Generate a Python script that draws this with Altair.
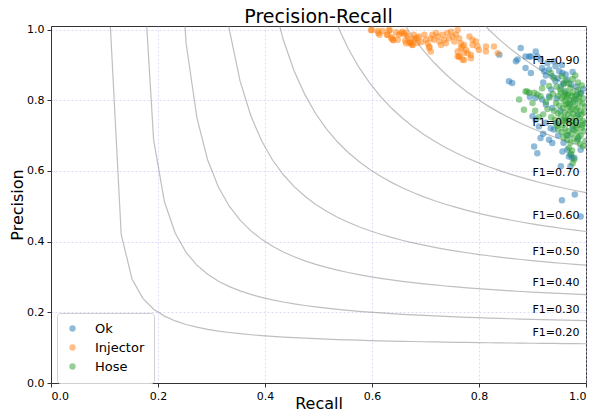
import altair as alt
import pandas as pd
import numpy as np

# ---- data ----
chart_title = "Precision-Recall"

ok_recall = [0.838, 0.878, 0.869, 0.872, 0.887, 0.897, 0.906, 0.909, 0.894, 0.918, 0.922, 0.931, 0.937, 0.943,
             0.950, 0.956, 0.962, 0.965, 0.856, 0.862, 0.943, 0.953, 0.984, 0.990, 0.978, 0.906, 0.918, 0.925,
             0.931, 0.937, 0.906, 0.925, 0.934, 0.940, 0.912, 0.903, 0.909, 0.915, 0.931, 0.937, 0.956, 0.971,
             0.974, 0.953, 0.968, 0.978, 0.971, 0.979, 0.955, 0.990, 0.897, 0.887, 0.928, 0.915, 0.925, 0.947,
             0.958, 0.972, 0.982, 0.995, 0.960, 0.945, 0.970, 0.985, 0.952, 0.962, 0.975, 0.944, 0.966, 0.985,
             0.958, 0.948, 0.920, 0.990, 0.965, 0.900, 0.895, 0.920, 0.935, 0.975, 0.940, 0.955]
ok_precision = [0.929, 0.948, 0.910, 0.915, 0.891, 0.877, 0.938, 0.924, 0.924, 0.891, 0.882, 0.887, 0.868, 0.896,
                0.882, 0.877, 0.873, 0.858, 0.854, 0.849, 0.854, 0.839, 0.816, 0.821, 0.802, 0.807, 0.802, 0.788,
                0.811, 0.778, 0.745, 0.736, 0.721, 0.717, 0.726, 0.669, 0.650, 0.693, 0.688, 0.679, 0.655, 0.646,
                0.637, 0.613, 0.641, 0.637, 0.613, 0.533, 0.517, 0.471, 0.924, 0.924, 0.905, 0.915, 0.870, 0.862,
                0.848, 0.845, 0.838, 0.832, 0.822, 0.805, 0.790, 0.760, 0.770, 0.745, 0.720, 0.735, 0.700, 0.690,
                0.680, 0.700, 0.705, 0.660, 0.660, 0.755, 0.810, 0.850, 0.830, 0.880, 0.910, 0.900]

inj_recall = [0.600, 0.612, 0.620, 0.628, 0.633, 0.637, 0.640, 0.645, 0.650, 0.654, 0.657, 0.660, 0.663, 0.666,
              0.662, 0.672, 0.675, 0.668, 0.678, 0.681, 0.598, 0.611, 0.614, 0.632, 0.629, 0.636, 0.639, 0.648,
              0.664, 0.673, 0.676, 0.679, 0.685, 0.688, 0.692, 0.698, 0.701, 0.704, 0.707, 0.710, 0.713, 0.716,
              0.720, 0.723, 0.726, 0.729, 0.732, 0.735, 0.738, 0.741, 0.744, 0.748, 0.751, 0.754, 0.757, 0.760,
              0.760, 0.760, 0.763, 0.769, 0.772, 0.707, 0.710, 0.685, 0.670, 0.763, 0.766, 0.766, 0.769, 0.772,
              0.776, 0.782, 0.785, 0.788, 0.788, 0.794, 0.797, 0.800, 0.813, 0.813, 0.828, 0.835, 0.763, 0.772,
              0.785, 0.779]
inj_precision = [0.998, 0.990, 0.996, 0.985, 0.997, 0.978, 0.970, 0.992, 0.985, 0.990, 0.994, 0.987, 0.991, 0.982,
                 0.968, 0.965, 0.957, 0.975, 0.985, 0.972, 0.999, 0.996, 0.985, 0.999, 0.985, 0.975, 0.971, 0.971,
                 0.961, 0.961, 0.956, 0.975, 0.977, 0.980, 0.965, 0.985, 0.971, 0.961, 0.952, 0.975, 0.985, 0.971,
                 0.990, 0.980, 0.966, 0.956, 0.985, 0.971, 0.961, 0.990, 0.975, 0.994, 0.980, 0.966, 0.985, 0.999,
                 0.924, 0.938, 0.924, 0.915, 0.934, 0.948, 0.938, 0.962, 0.962, 0.975, 0.961, 0.947, 0.952, 0.956,
                 0.942, 0.980, 0.928, 0.956, 0.971, 0.966, 0.952, 0.942, 0.952, 0.938, 0.952, 0.933, 0.924, 0.914,
                 0.919, 0.933]

hose_recall = [0.875, 0.887, 0.894, 0.884, 0.900, 0.909, 0.915, 0.934, 0.940, 0.918, 0.931,
               0.945, 0.952, 0.958, 0.962, 0.967, 0.971, 0.975, 0.980, 0.985, 0.990, 0.995,
               0.948, 0.955, 0.960, 0.965, 0.970, 0.976, 0.982, 0.988, 0.993, 0.998,
               0.944, 0.950, 0.957, 0.962, 0.968, 0.973, 0.979, 0.984, 0.990, 0.996,
               0.940, 0.947, 0.953, 0.960, 0.966, 0.972, 0.977, 0.983, 0.988, 0.994,
               0.942, 0.950, 0.956, 0.963, 0.969, 0.975, 0.980, 0.986, 0.992, 0.998,
               0.948, 0.955, 0.961, 0.967, 0.973, 0.978, 0.984, 0.990, 0.996,
               0.958, 0.965, 0.971, 0.977, 0.983, 0.989, 0.995, 0.999,
               0.968, 0.974, 0.972, 0.978, 0.975,
               0.920, 0.928, 0.935, 0.925, 0.932, 0.938, 0.905, 0.912,
               0.962, 0.968, 0.975, 0.955, 0.985, 0.992, 0.980,
               0.953, 0.964, 0.974, 0.987, 0.960, 0.970, 0.981, 0.991, 0.946, 0.957, 0.982, 0.993,
               0.964, 0.986, 0.976, 0.966, 0.959, 0.890, 0.903]
hose_precision = [0.802, 0.825, 0.821, 0.773, 0.792, 0.816, 0.811, 0.877, 0.863, 0.834, 0.840,
                  0.838, 0.830, 0.845, 0.826, 0.818, 0.835, 0.822, 0.812, 0.828, 0.818, 0.805,
                  0.812, 0.805, 0.798, 0.808, 0.800, 0.795, 0.802, 0.796, 0.790, 0.782,
                  0.792, 0.785, 0.778, 0.788, 0.782, 0.775, 0.785, 0.778, 0.770, 0.765,
                  0.770, 0.763, 0.756, 0.766, 0.760, 0.752, 0.762, 0.755, 0.748, 0.742,
                  0.745, 0.738, 0.730, 0.742, 0.735, 0.728, 0.738, 0.730, 0.722, 0.735,
                  0.718, 0.710, 0.720, 0.712, 0.705, 0.716, 0.708, 0.700, 0.712,
                  0.695, 0.688, 0.680, 0.692, 0.685, 0.676, 0.670, 0.685,
                  0.665, 0.658, 0.648, 0.632, 0.622,
                  0.760, 0.775, 0.752, 0.795, 0.808, 0.818, 0.770, 0.752,
                  0.855, 0.848, 0.860, 0.868, 0.850, 0.842, 0.870,
                  0.822, 0.815, 0.812, 0.810, 0.750, 0.770, 0.772, 0.760, 0.728, 0.742, 0.722, 0.730,
                  0.702, 0.695, 0.742, 0.790, 0.812, 0.825, 0.821]

classes = ["Ok", "Injector", "Hose"]
class_colors = ["#1f77b4", "#ff7f0e", "#2ca02c"]
f1_levels = [0.2, 0.3, 0.4, 0.5, 0.6, 0.7, 0.8, 0.9]
axis_ticks = [0.0, 0.2, 0.4, 0.6, 0.8, 1.0]

# ---- tables ----
pts = pd.concat([
    pd.DataFrame({"Recall": ok_recall, "Precision": ok_precision, "cls": "Ok"}),
    pd.DataFrame({"Recall": inj_recall, "Precision": inj_precision, "cls": "Injector"}),
    pd.DataFrame({"Recall": hose_recall, "Precision": hose_precision, "cls": "Hose"}),
], ignore_index=True)
pts["order"] = range(len(pts))

# iso-F1 reference curves (defined by their F1 level)
xs = np.linspace(0.01, 1, 50)
curve_rows, label_rows = [], []
for f in f1_levels:
    ys = f * xs / (2 * xs - f)
    for i, (a, b) in enumerate(zip(xs, ys)):
        if b >= 0:
            curve_rows.append({"x": a, "y": b, "f": f, "i": i})
    label_rows.append({"x": 0.9, "y": ys[45] + 0.02, "text": "F1={0:0.2f}".format(f)})
curves = pd.DataFrame(curve_rows)
labels = pd.DataFrame(label_rows)

W, H = 535, 357
xscale = alt.Scale(domain=[0, 1.0], nice=False, zero=False)
yscale = alt.Scale(domain=[0, 1.01], nice=False, zero=False)

xaxis = alt.Axis(values=axis_ticks, format=".1f", title="Recall",
                 titleY=25, titleBaseline="alphabetic")
yaxis = alt.Axis(values=axis_ticks, format=".1f", title="Precision",
                 titleX=-29, titleY=H / 2, titleBaseline="alphabetic", titleAlign="center", titleAngle=270)

lines = alt.Chart(curves).mark_line(clip=True, color="gray", opacity=0.5, strokeWidth=1.2).encode(
    x=alt.X("x:Q", scale=xscale, axis=xaxis),
    y=alt.Y("y:Q", scale=yscale, axis=yaxis),
    detail="f:N",
    order="i:Q",
)

texts = alt.Chart(labels).mark_text(align="left", baseline="alphabetic", fontSize=11,
                                     font="DejaVu Sans", color="black").encode(
    x=alt.X("x:Q", scale=xscale),
    y=alt.Y("y:Q", scale=yscale),
    text="text:N",
)

points = alt.Chart(pts).mark_circle(size=42, opacity=0.5, clip=True).encode(
    x=alt.X("Recall:Q", scale=xscale),
    y=alt.Y("Precision:Q", scale=yscale),
    color=alt.Color("cls:N", scale=alt.Scale(domain=classes, range=class_colors),
                    sort=classes,
                    legend=alt.Legend(title=None, orient="none", legendX=6, legendY=287,
                                      labelFontSize=13, labelFont="DejaVu Sans", labelColor="black",
                                      symbolSize=40, symbolOpacity=0.5, symbolType="circle",
                                      rowPadding=5, padding=9, labelOffset=16,
                                      strokeColor="#d0d0d0", fillColor="white",
                                      cornerRadius=3, symbolStrokeWidth=0)),
    order="order:Q",
)

title_mark = alt.Chart(pd.DataFrame({"t": [chart_title]})).mark_text(
    align="center", baseline="alphabetic", fontSize=19, font="DejaVu Sans", color="black"
).encode(x=alt.value(W / 2), y=alt.value(-3), text="t:N")

chart = alt.layer(lines, points, texts, title_mark).properties(
    width=W, height=H,
    autosize=alt.AutoSizeParams(type="none"),
    padding={"left": 43, "top": 18, "right": 1, "bottom": 28},
).configure_view(
    stroke="#333333", strokeWidth=1
).configure_axis(
    labelFont="DejaVu Sans", labelFontSize=11, labelColor="black",
    titleFont="DejaVu Sans", titleFontSize=16, titleFontWeight="normal", titleColor="black",
    domainColor="#333333", tickColor="#333333", tickSize=4,
    gridColor="#c8c8f5", gridDash=[2, 2], gridOpacity=0.8, gridWidth=0.8,
    labelPadding=3,
)

chart.save("out.html", embed_options={"renderer": "svg", "actions": False})
